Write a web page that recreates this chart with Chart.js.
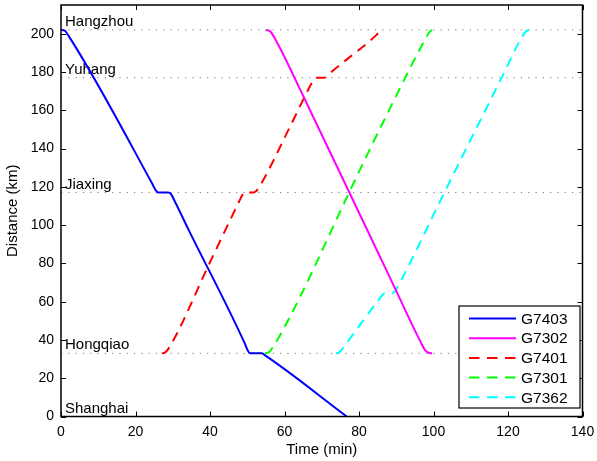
<!DOCTYPE html>
<html>
<head>
<meta charset="utf-8">
<script src="https://cdn.jsdelivr.net/npm/chart.js@4"></script>
<style>
  html, body { margin: 0; padding: 0; background: #fff; }
</style>
</head>
<body>
<canvas id="myChart" width="597" height="461"></canvas>
<script>
// stations along the line (km from Shanghai)
let stationNames = ["Hangzhou", "Yuhang", "Jiaxing", "Hongqiao", "Shanghai"];
let stationKm = [202, 177, 117, 33, 0];

let trainNames = ["G7403", "G7302", "G7401", "G7301", "G7362"];

let g7403Min = [0, 1.0, 2.0, 24.5, 25.4, 26.1, 28.8, 29.5, 30.5, 34.3, 49.3, 50.1, 50.8, 53.9, 54.6, 76.7];
let g7403Km = [202, 201.6, 199, 121.6, 118.3, 117, 117, 116.3, 112.6, 97.4, 38.3, 34.6, 33, 33, 32.2, 0];

let g7302Min = [55, 56.2, 57.5, 65, 89.7, 96.5, 97.8, 98.7, 99.6];
let g7302Km = [202, 201.2, 197.2, 167.6, 66.8, 39.1, 34.6, 33.3, 33];

let g7401Min = [27.1, 28.0, 29.2, 39.9, 45.4, 47.8, 48.6, 49.2, 51.6, 52.4, 53.4, 61.6, 66.7, 67.8, 68.5, 70.7, 71.6, 72.9, 84.5, 85.4, 86.2];
let g7401Km = [33, 33.5, 36.5, 80.2, 102.6, 112.3, 115.4, 117, 117, 117.8, 120.5, 151.9, 172, 175.8, 177, 177, 178.2, 180.5, 199, 200.8, 202];

let g7301Min = [54.8, 55.9, 57.3, 64.2, 77.5, 87.4, 97.6, 98.9, 99.6];
let g7301Km = [33, 33.7, 37.5, 62.6, 117.7, 157.4, 196.5, 200.8, 202];

let g7362Min = [73.8, 74.7, 75.8, 77.6, 85.2, 86.3, 87.0, 88.8, 89.6, 90.6, 103, 118.3, 123.8, 124.9, 125.6];
let g7362Km = [33, 33.6, 36, 40.8, 60.8, 63.5, 64.3, 64.3, 65.2, 68.5, 117.4, 177, 198.5, 201.3, 202];

let xTicks = [0, 20, 40, 60, 80, 100, 120, 140];
let yTicks = [0, 20, 40, 60, 80, 100, 120, 140, 160, 180, 200];

const FONT = "'Liberation Sans', Arial, Helvetica, sans-serif";
Chart.defaults.font.family = FONT;
Chart.defaults.color = "#000";

function pts(xs, ys) {
  return xs.map((v, i) => ({ x: v, y: ys[i] }));
}

function train(label, xs, ys, color, dashed) {
  return {
    label: label,
    data: pts(xs, ys),
    borderColor: color,
    backgroundColor: color,
    borderWidth: 2,
    borderDash: dashed ? [10, 7] : [],
    pointRadius: 0,
    cubicInterpolationMode: "monotone",
    fill: false,
    order: 0,
    isTrain: true,
  };
}

let datasets = [];
// dotted station reference lines
stationKm.forEach((km, i) => {
  if (km === 0) return;
  datasets.push({
    label: stationNames[i],
    data: [{ x: xTicks[0], y: km }, { x: xTicks[xTicks.length - 1], y: km }],
    borderColor: "#777",
    borderWidth: 1,
    borderDash: [1.2, 6.1],
    pointRadius: 0,
    fill: false,
    order: 5,
  });
});
datasets.push(train(trainNames[0], g7403Min, g7403Km, "#0000ff", false));
datasets.push(train(trainNames[1], g7302Min, g7302Km, "#ff00ff", false));
datasets.push(train(trainNames[2], g7401Min, g7401Km, "#ff0000", true));
datasets.push(train(trainNames[3], g7301Min, g7301Km, "#00ff00", true));
datasets.push(train(trainNames[4], g7362Min, g7362Km, "#00ffff", true));

function noPad(s) {
  s.paddingTop = 0;
  s.paddingBottom = 0;
  s.paddingLeft = 0;
  s.paddingRight = 0;
}

const decor = {
  id: "decor",
  beforeDatasetsDraw(chart) {
    const { ctx, scales: { x, y } } = chart;
    ctx.save();
    ctx.font = "15px " + FONT;
    ctx.fillStyle = "#000";
    ctx.textAlign = "left";
    ctx.textBaseline = "alphabetic";
    stationNames.forEach((n, i) => {
      ctx.fillText(n, x.getPixelForValue(0) + 4, y.getPixelForValue(stationKm[i]) - 4);
    });
    ctx.restore();
  },
  afterDraw(chart) {
    const { ctx, chartArea: a, scales: { x, y } } = chart;
    ctx.save();
    // box
    ctx.strokeStyle = "#000";
    ctx.lineWidth = 1.5;
    ctx.strokeRect(a.left, a.top, a.right - a.left, a.bottom - a.top);
    // inward ticks on all sides
    ctx.lineWidth = 1;
    ctx.beginPath();
    xTicks.forEach((v) => {
      let px = Math.round(x.getPixelForValue(v)) + 0.5;
      ctx.moveTo(px, a.bottom); ctx.lineTo(px, a.bottom - 5);
      ctx.moveTo(px, a.top); ctx.lineTo(px, a.top + 5);
    });
    yTicks.forEach((v) => {
      let py = Math.round(y.getPixelForValue(v)) + 0.5;
      ctx.moveTo(a.left, py); ctx.lineTo(a.left + 5, py);
      ctx.moveTo(a.right, py); ctx.lineTo(a.right - 5, py);
    });
    ctx.stroke();

    // legend
    let trains = chart.data.datasets.filter((d) => d.isTrain);
    let lx = 459, ly = 306, lw = 121, lh = 102;
    ctx.fillStyle = "#fff";
    ctx.fillRect(lx, ly, lw, lh);
    ctx.strokeStyle = "#000";
    ctx.lineWidth = 1.2;
    ctx.strokeRect(lx, ly, lw, lh);
    ctx.font = "15.5px " + FONT;
    ctx.textBaseline = "middle";
    ctx.textAlign = "left";
    trains.forEach((d, i) => {
      let ry = ly + 12.5 + i * 19.7;
      ctx.strokeStyle = d.borderColor;
      ctx.lineWidth = 2;
      ctx.setLineDash(d.borderDash.length ? [10.5, 7.5] : []);
      ctx.beginPath();
      ctx.moveTo(lx + 10, ry);
      ctx.lineTo(lx + 57, ry);
      ctx.stroke();
      ctx.setLineDash([]);
      ctx.fillStyle = "#000";
      ctx.fillText(d.label, lx + 62, ry + 1);
    });
    ctx.restore();
  },
};

new Chart(document.getElementById("myChart"), {
  type: "line",
  data: { datasets: datasets },
  plugins: [decor],
  options: {
    responsive: false,
    animation: false,
    devicePixelRatio: 1,
    layout: { padding: { top: 5, right: 14.5, left: 0, bottom: 0 } },
    plugins: { legend: { display: false }, tooltip: { enabled: false } },
    scales: {
      x: {
        type: "linear",
        min: 0,
        max: 140,
        afterBuildTicks: (s) => { s.ticks = xTicks.map((v) => ({ value: v })); },
        ticks: { padding: 7, font: { size: 14 }, color: "#000" },
        grid: { display: false, drawTicks: false },
        border: { display: false },
        title: { display: true, text: "Time (min)", font: { size: 15 }, color: "#000", padding: { top: 0, bottom: 2 } },
        afterFit: (s) => { s.height = 44.5; noPad(s); },
      },
      y: {
        type: "linear",
        min: 0,
        max: 215,
        afterBuildTicks: (s) => { s.ticks = yTicks.map((v) => ({ value: v })); },
        ticks: { padding: 7, font: { size: 14 }, color: "#000" },
        grid: { display: false, drawTicks: false },
        border: { display: false },
        title: { display: true, text: "Distance (km)", font: { size: 15 }, color: "#000", padding: { top: 3.5, bottom: 0 } },
        afterFit: (s) => { s.width = 61; noPad(s); },
      },
    },
  },
});
</script>
</body>
</html>
